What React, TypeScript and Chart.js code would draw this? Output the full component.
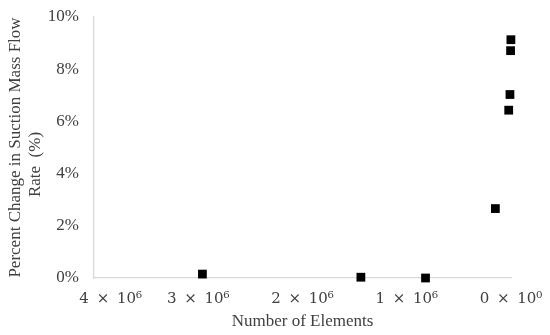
import React, { useEffect, useRef } from "react";
import { Chart, registerables } from "chart.js";

Chart.register(...registerables);

const elementCounts = [2960000, 1440000, 820000, 150000, 22000, 10000, 4000, 1000];
const percentChange = [0.15, 0.03, 0.0, 2.66, 6.43, 7.03, 8.71, 9.13];
const xTickValues = [4000000, 3000000, 2000000, 1000000, 0];
const xTickLabels = [
  "\u00A0\u00A0\u00A0\u00A0\u00A0\u00A0\u00A04\u2009 × \u200910⁶",
  "3\u2009 × \u200910⁶",
  "2\u2009 × \u200910⁶",
  "1\u2009 × \u200910⁶",
  "0\u2009 × \u200910⁰",
];
const yTickValues = [0, 2, 4, 6, 8, 10];
const yTitle = ["Percent Change in Suction Mass Flow", "Rate  (%)\u00A0\u00A0\u00A0\u00A0\u00A0\u00A0\u00A0\u00A0"];
const xTitle = "Number of Elements";

const SERIF = "'Liberation Serif', 'Times New Roman', serif";
const MATH = "'DejaVu Serif', serif";

export default function App() {
  const ref = useRef<HTMLCanvasElement | null>(null);

  useEffect(() => {
    if (!ref.current) return;
    const points = elementCounts.map((x, i) => ({ x, y: percentChange[i] }));
    const chart = new Chart(ref.current, {
      type: "scatter",
      data: {
        datasets: [
          {
            data: points,
            pointStyle: "rect",
            pointRadius: 6.2,
            pointHoverRadius: 6.2,
            backgroundColor: "#000000",
            borderColor: "#000000",
            borderWidth: 0,
            clip: false,
          } as any,
        ],
      },
      options: {
        animation: false,
        responsive: false,
        maintainAspectRatio: false,
        layout: { padding: { left: 0, top: 17, right: 39, bottom: 0 } },
        plugins: {
          legend: { display: false },
          tooltip: { enabled: false },
        },
        scales: {
          x: {
            type: "linear",
            reverse: true,
            min: 0,
            max: 4000000,
            afterBuildTicks: (scale: any) => {
              scale.ticks = xTickValues.map((v) => ({ value: v }));
            },
            afterFit: (scale: any) => {
              scale.height = 57;
              scale.paddingLeft = 0;
              scale.paddingRight = 0;
            },
            grid: { display: false, drawTicks: false },
            border: { display: true, color: "#d9d9d9", width: 1.3 },
            ticks: {
              color: "#404040",
              padding: 12,
              maxRotation: 0,
              autoSkip: false,
              font: { family: MATH, size: 15 },
              callback: (v: any) => {
                const idx = xTickValues.indexOf(Number(v));
                return idx >= 0 ? xTickLabels[idx] : "";
              },
            },
            title: {
              display: true,
              text: xTitle,
              color: "#404040",
              font: { family: SERIF, size: 17 },
              padding: { top: 0, bottom: 3 },
            },
          },
          y: {
            type: "linear",
            min: 0,
            max: 10,
            afterBuildTicks: (scale: any) => {
              scale.ticks = yTickValues.map((v) => ({ value: v }));
            },
            afterFit: (scale: any) => {
              scale.width = 94;
              scale.paddingTop = 0;
              scale.paddingBottom = 0;
            },
            grid: { display: false, drawTicks: false },
            border: { display: true, color: "#d9d9d9", width: 1.3 },
            ticks: {
              color: "#404040",
              padding: 15,
              font: { family: SERIF, size: 17 },
              callback: (v: any) => `${v}%`,
            },
            title: {
              display: true,
              text: yTitle,
              color: "#404040",
              font: { family: SERIF, size: 17 },
              padding: { top: 5, bottom: 0 },
            },
          },
        },
      },
    });
    return () => chart.destroy();
  }, []);

  return (
    <div style={{ position: "fixed", left: 0, top: 0, width: 550, height: 335, background: "#ffffff" }}>
      <canvas ref={ref} width={550} height={335} style={{ width: 550, height: 335 }} />
    </div>
  );
}
